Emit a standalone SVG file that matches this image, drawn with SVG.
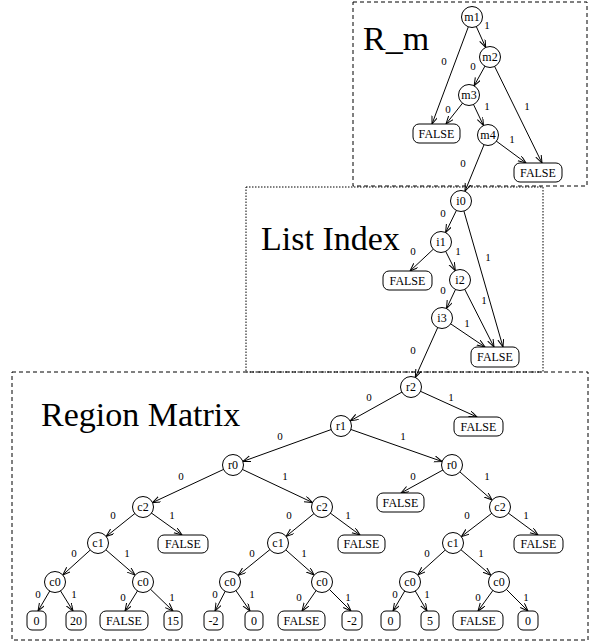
<svg xmlns="http://www.w3.org/2000/svg" width="591" height="644" viewBox="0 0 591 644">
<style>
.frame{fill:none;stroke:#000;stroke-width:1}
.dash{stroke-dasharray:4,3}
.dot{stroke-dasharray:1.5,1.5}
.title{font-family:"Liberation Serif",serif;font-size:34px;fill:#000}
.e{stroke:#000;stroke-width:1;fill:none}
.ec{marker-end:url(#ac)}
.eb{marker-end:url(#ab)}
.lbl{font-family:"Liberation Serif",serif;font-size:11px;fill:#000;text-anchor:middle}
.n circle{fill:#fff;stroke:#000;stroke-width:1}
.n rect{fill:#fff;stroke:#000;stroke-width:1}
.n text{font-family:"Liberation Serif",serif;font-size:12px;fill:#000;text-anchor:middle}
</style>
<defs>
<marker id="ac" markerUnits="userSpaceOnUse" markerWidth="10" markerHeight="8" refX="18.5" refY="3" orient="auto">
<path d="M0,0 L8,3 L0,6" fill="none" stroke="#000" stroke-width="1"/>
</marker>
<marker id="ab" markerUnits="userSpaceOnUse" markerWidth="10" markerHeight="8" refX="8" refY="3" orient="auto">
<path d="M0,0 L8,3 L0,6" fill="none" stroke="#000" stroke-width="1"/>
</marker>
</defs>

<g id="frames">
<rect class="frame dash" x="353" y="2" width="234" height="184"/>
<rect class="frame dot" x="246" y="187" width="297" height="185"/>
<rect class="frame dash" x="12" y="372" width="576" height="268"/>
<text class="title" x="363" y="50">R_m</text>
<text class="title" x="261" y="250">List Index</text>
<text class="title" x="41" y="426">Region Matrix</text>
</g>

<g id="connectors">
<!-- R_m -->
<line class="e eb" x1="472" y1="17" x2="432" y2="124"/>
<line class="e ec" x1="472" y1="17" x2="490" y2="57"/>
<line class="e ec" x1="490" y1="57" x2="469" y2="95"/>
<line class="e eb" x1="490" y1="57" x2="542" y2="163"/>
<line class="e eb" x1="469" y1="95" x2="446" y2="124"/>
<line class="e ec" x1="469" y1="95" x2="488" y2="135"/>
<line class="e eb" x1="488" y1="135" x2="526" y2="163"/>
<line class="e ec" x1="488" y1="135" x2="461" y2="201"/>
<!-- List Index -->
<line class="e ec" x1="461" y1="201" x2="441" y2="242"/>
<line class="e eb" x1="461" y1="201" x2="503" y2="347"/>
<line class="e eb" x1="441" y1="242" x2="410" y2="271"/>
<line class="e ec" x1="441" y1="242" x2="460" y2="280"/>
<line class="e ec" x1="460" y1="280" x2="442" y2="318"/>
<line class="e eb" x1="460" y1="280" x2="494" y2="347"/>
<line class="e eb" x1="442" y1="318" x2="485" y2="347"/>
<line class="e ec" x1="442" y1="318" x2="411" y2="387"/>
<!-- Region Matrix -->
<line class="e ec" x1="411" y1="387" x2="341" y2="426"/>
<line class="e eb" x1="411" y1="387" x2="477" y2="417"/>
<line class="e ec" x1="341" y1="426" x2="233" y2="465"/>
<line class="e ec" x1="341" y1="426" x2="452" y2="465"/>
<line class="e eb" x1="452" y1="465" x2="401" y2="493"/>
<line class="e ec" x1="452" y1="465" x2="500" y2="507"/>
<line class="e ec" x1="233" y1="465" x2="143" y2="507"/>
<line class="e ec" x1="233" y1="465" x2="322" y2="507"/>
<line class="e ec" x1="143" y1="507" x2="98" y2="543"/>
<line class="e eb" x1="143" y1="507" x2="182" y2="535"/>
<line class="e ec" x1="322" y1="507" x2="278" y2="543"/>
<line class="e eb" x1="322" y1="507" x2="360" y2="535"/>
<line class="e ec" x1="500" y1="507" x2="453" y2="543"/>
<line class="e eb" x1="500" y1="507" x2="538" y2="535"/>
<line class="e ec" x1="98" y1="543" x2="55" y2="582"/>
<line class="e ec" x1="98" y1="543" x2="143" y2="582"/>
<line class="e ec" x1="278" y1="543" x2="230" y2="582"/>
<line class="e ec" x1="278" y1="543" x2="322" y2="582"/>
<line class="e ec" x1="453" y1="543" x2="410" y2="582"/>
<line class="e ec" x1="453" y1="543" x2="499" y2="582"/>
<line class="e eb" x1="55" y1="582" x2="38" y2="611"/>
<line class="e eb" x1="55" y1="582" x2="73" y2="611"/>
<line class="e eb" x1="143" y1="582" x2="125" y2="611"/>
<line class="e eb" x1="143" y1="582" x2="173" y2="611"/>
<line class="e eb" x1="230" y1="582" x2="215" y2="611"/>
<line class="e eb" x1="230" y1="582" x2="250" y2="611"/>
<line class="e eb" x1="322" y1="582" x2="302" y2="611"/>
<line class="e eb" x1="322" y1="582" x2="351" y2="611"/>
<line class="e eb" x1="410" y1="582" x2="393" y2="611"/>
<line class="e eb" x1="410" y1="582" x2="427" y2="611"/>
<line class="e eb" x1="499" y1="582" x2="478" y2="611"/>
<line class="e eb" x1="499" y1="582" x2="528" y2="611"/>
<!-- labels -->
<text class="lbl" x="444" y="65">0</text>
<text class="lbl" x="487" y="29">1</text>
<text class="lbl" x="473" y="70">0</text>
<text class="lbl" x="527" y="110">1</text>
<text class="lbl" x="448" y="113">0</text>
<text class="lbl" x="487" y="110">1</text>
<text class="lbl" x="512" y="143">1</text>
<text class="lbl" x="463" y="167">0</text>
<text class="lbl" x="443" y="217">0</text>
<text class="lbl" x="488" y="261">1</text>
<text class="lbl" x="413" y="255">0</text>
<text class="lbl" x="458" y="255">1</text>
<text class="lbl" x="443" y="294">0</text>
<text class="lbl" x="484" y="304">1</text>
<text class="lbl" x="467" y="327">1</text>
<text class="lbl" x="413" y="354">0</text>
<text class="lbl" x="369" y="401">0</text>
<text class="lbl" x="451" y="401">1</text>
<text class="lbl" x="280" y="440">0</text>
<text class="lbl" x="403" y="440">1</text>
<text class="lbl" x="413" y="480">0</text>
<text class="lbl" x="487" y="480">1</text>
<text class="lbl" x="181" y="480">0</text>
<text class="lbl" x="285" y="480">1</text>
<text class="lbl" x="113" y="519">0</text>
<text class="lbl" x="172" y="519">1</text>
<text class="lbl" x="289" y="519">0</text>
<text class="lbl" x="348" y="519">1</text>
<text class="lbl" x="467" y="519">0</text>
<text class="lbl" x="526" y="519">1</text>
<text class="lbl" x="74" y="557">0</text>
<text class="lbl" x="127" y="557">1</text>
<text class="lbl" x="252" y="557">0</text>
<text class="lbl" x="304" y="557">1</text>
<text class="lbl" x="427" y="557">0</text>
<text class="lbl" x="481" y="557">1</text>
<text class="lbl" x="38" y="598">0</text>
<text class="lbl" x="74" y="598">1</text>
<text class="lbl" x="123" y="601">0</text>
<text class="lbl" x="172" y="601">1</text>
<text class="lbl" x="215" y="598">0</text>
<text class="lbl" x="252" y="598">1</text>
<text class="lbl" x="299" y="601">0</text>
<text class="lbl" x="348" y="601">1</text>
<text class="lbl" x="395" y="598">0</text>
<text class="lbl" x="427" y="598">1</text>
<text class="lbl" x="478" y="601">0</text>
<text class="lbl" x="526" y="601">1</text>
</g>

<g id="m1" class="n"><circle cx="472" cy="17" r="10.5"/><text x="472" y="21">m1</text></g>
<g id="m2" class="n"><circle cx="490" cy="57" r="10.5"/><text x="490" y="61">m2</text></g>
<g id="m3" class="n"><circle cx="469" cy="95" r="10.5"/><text x="469" y="99">m3</text></g>
<g id="m4" class="n"><circle cx="488" cy="135" r="10.5"/><text x="488" y="139">m4</text></g>
<g id="fm1" class="n"><rect x="413" y="124" width="47" height="19" rx="6"/><text x="436.5" y="138">FALSE</text></g>
<g id="fm2" class="n"><rect x="514" y="163" width="48" height="19" rx="6"/><text x="538" y="177">FALSE</text></g>

<g id="i0" class="n"><circle cx="461" cy="201" r="10.5"/><text x="461" y="205">i0</text></g>
<g id="i1" class="n"><circle cx="441" cy="242" r="10.5"/><text x="441" y="246">i1</text></g>
<g id="i2" class="n"><circle cx="460" cy="280" r="10.5"/><text x="460" y="284">i2</text></g>
<g id="i3" class="n"><circle cx="442" cy="318" r="10.5"/><text x="442" y="322">i3</text></g>
<g id="fi1" class="n"><rect x="383" y="271" width="49" height="19" rx="6"/><text x="407.5" y="285">FALSE</text></g>
<g id="fi2" class="n"><rect x="471" y="347" width="48" height="20" rx="6"/><text x="495" y="361">FALSE</text></g>

<g id="r2" class="n"><circle cx="411" cy="387" r="10.5"/><text x="411" y="391">r2</text></g>
<g id="r1" class="n"><circle cx="341" cy="426" r="10.5"/><text x="341" y="430">r1</text></g>
<g id="r0a" class="n"><circle cx="233" cy="465" r="10.5"/><text x="233" y="469">r0</text></g>
<g id="r0b" class="n"><circle cx="452" cy="465" r="10.5"/><text x="452" y="469">r0</text></g>
<g id="fr2" class="n"><rect x="454" y="417" width="49" height="19" rx="6"/><text x="478.5" y="431">FALSE</text></g>
<g id="fr0" class="n"><rect x="377" y="493" width="47" height="19" rx="6"/><text x="400.5" y="507">FALSE</text></g>

<g id="c2a" class="n"><circle cx="143" cy="507" r="10.5"/><text x="143" y="511">c2</text></g>
<g id="c2b" class="n"><circle cx="322" cy="507" r="10.5"/><text x="322" y="511">c2</text></g>
<g id="c2c" class="n"><circle cx="500" cy="507" r="10.5"/><text x="500" y="511">c2</text></g>
<g id="fc2a" class="n"><rect x="158" y="535" width="50" height="18" rx="6"/><text x="183" y="548">FALSE</text></g>
<g id="fc2b" class="n"><rect x="338" y="535" width="47" height="18" rx="6"/><text x="361.5" y="548">FALSE</text></g>
<g id="fc2c" class="n"><rect x="514" y="535" width="49" height="18" rx="6"/><text x="538.5" y="548">FALSE</text></g>

<g id="c1a" class="n"><circle cx="98" cy="543" r="10.5"/><text x="98" y="547">c1</text></g>
<g id="c1b" class="n"><circle cx="278" cy="543" r="10.5"/><text x="278" y="547">c1</text></g>
<g id="c1c" class="n"><circle cx="453" cy="543" r="10.5"/><text x="453" y="547">c1</text></g>

<g id="c0a" class="n"><circle cx="55" cy="582" r="10.5"/><text x="55" y="586">c0</text></g>
<g id="c0b" class="n"><circle cx="143" cy="582" r="10.5"/><text x="143" y="586">c0</text></g>
<g id="c0c" class="n"><circle cx="230" cy="582" r="10.5"/><text x="230" y="586">c0</text></g>
<g id="c0d" class="n"><circle cx="322" cy="582" r="10.5"/><text x="322" y="586">c0</text></g>
<g id="c0e" class="n"><circle cx="410" cy="582" r="10.5"/><text x="410" y="586">c0</text></g>
<g id="c0f" class="n"><circle cx="499" cy="582" r="10.5"/><text x="499" y="586">c0</text></g>

<g id="l1" class="n"><rect x="27" y="611" width="19" height="19" rx="5"/><text x="36.5" y="625">0</text></g>
<g id="l2" class="n"><rect x="66" y="611" width="20" height="19" rx="5"/><text x="76" y="625">20</text></g>
<g id="l3" class="n"><rect x="100" y="611" width="48" height="19" rx="6"/><text x="124" y="625">FALSE</text></g>
<g id="l4" class="n"><rect x="164" y="611" width="18" height="19" rx="5"/><text x="173" y="625">15</text></g>
<g id="l5" class="n"><rect x="204" y="611" width="19" height="19" rx="5"/><text x="213.5" y="625">-2</text></g>
<g id="l6" class="n"><rect x="245" y="611" width="18" height="19" rx="5"/><text x="254" y="625">0</text></g>
<g id="l7" class="n"><rect x="278" y="611" width="47" height="19" rx="6"/><text x="301.5" y="625">FALSE</text></g>
<g id="l8" class="n"><rect x="342" y="611" width="20" height="19" rx="5"/><text x="352" y="625">-2</text></g>
<g id="l9" class="n"><rect x="381" y="611" width="19" height="19" rx="5"/><text x="390.5" y="625">0</text></g>
<g id="l10" class="n"><rect x="421" y="611" width="18" height="19" rx="5"/><text x="430" y="625">5</text></g>
<g id="l11" class="n"><rect x="453" y="611" width="50" height="19" rx="6"/><text x="478" y="625">FALSE</text></g>
<g id="l12" class="n"><rect x="518" y="611" width="20" height="19" rx="5"/><text x="528" y="625">0</text></g>
</svg>
